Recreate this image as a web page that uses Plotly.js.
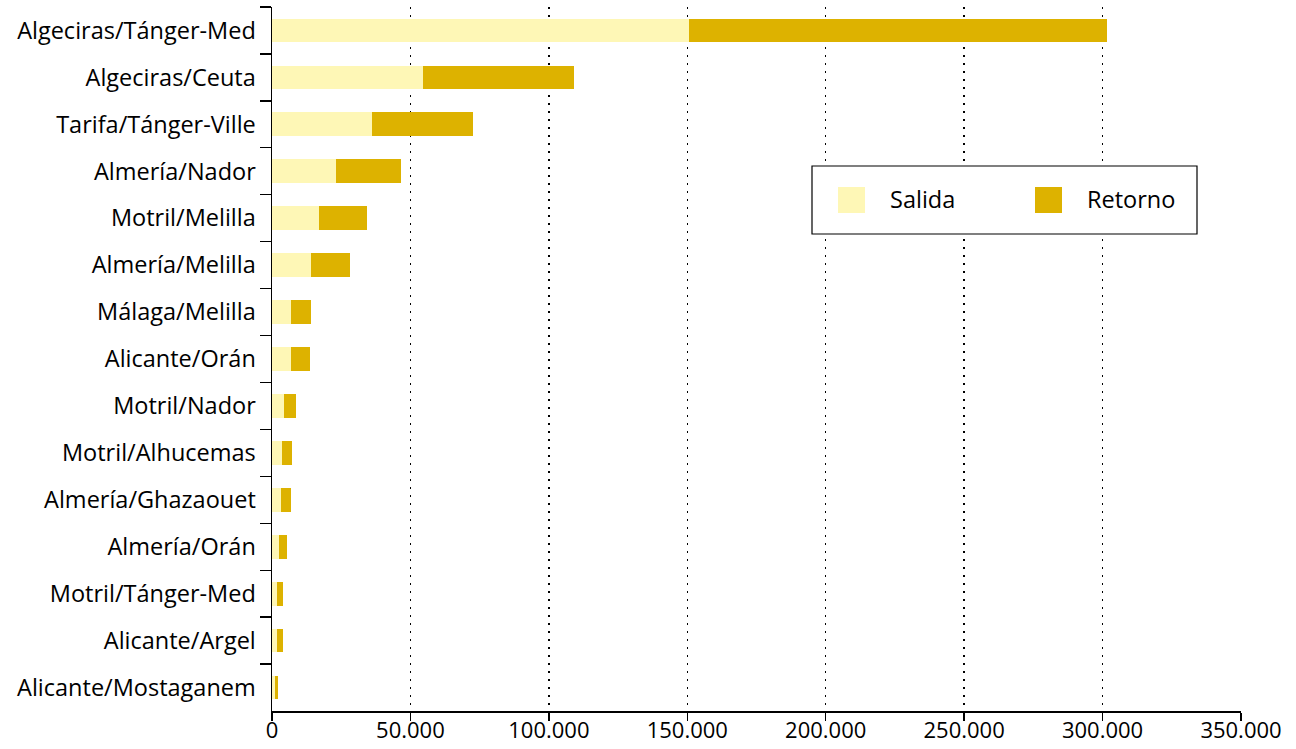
<!DOCTYPE html>
<html>
<head>
<meta charset="utf-8">
<script src="https://cdn.plot.ly/plotly-3.0.1.min.js"></script>
<style>html,body{margin:0;padding:0;background:#fff;}#chart{width:1296px;height:749px;}</style>
</head>
<body>
<div id="chart"></div>
<script>
const routes = ["Algeciras/Tánger-Med","Algeciras/Ceuta","Tarifa/Tánger-Ville","Almería/Nador","Motril/Melilla","Almería/Melilla","Málaga/Melilla","Alicante/Orán","Motril/Nador","Motril/Alhucemas","Almería/Ghazaouet","Almería/Orán","Motril/Tánger-Med","Alicante/Argel","Alicante/Mostaganem"];
const salida  = [150600, 54500, 36100, 23100, 17000, 14100, 6900, 6900, 4300, 3600, 3300, 2500, 1800, 1800, 1100];
const retorno = [150900, 54600, 36500, 23500, 17300, 14100, 7200, 6900, 4400, 3600, 3600, 2900, 2200, 2200, 1100];
const seriesNames = ["Salida", "Retorno"];
const xTicks = [0, 50000, 100000, 150000, 200000, 250000, 300000, 350000];

const colSalida = "#FEF7B6";
const colRetorno = "#DDB200";
const FONT = "Open Sans, sans-serif";
const FS = 23.5;

const traces = [
  {type:"bar", orientation:"h", name:seriesNames[0], y:routes, x:salida, marker:{color:colSalida, line:{width:0}}, showlegend:false, hoverinfo:"x+y"},
  {type:"bar", orientation:"h", name:seriesNames[1], y:routes, x:retorno, marker:{color:colRetorno, line:{width:0}}, showlegend:false, hoverinfo:"x+y"}
];

const layout = {
  width:1296, height:749,
  margin:{l:272, r:55, t:7, b:38, pad:0},
  paper_bgcolor:"#fff", plot_bgcolor:"#fff",
  barmode:"stack", bargap:0.495,
  separators:",.",
  font:{family:FONT, size:FS, color:"#000"},
  xaxis:{
    range:[0,350000], tickvals:xTicks, tickformat:",d",
    showgrid:true, gridcolor:"#000", gridwidth:1.4, griddash:"2px,6px",
    zeroline:false, showline:true, linecolor:"#000", linewidth:1.5,
    ticks:"outside", ticklen:8, tickcolor:"#000", tickwidth:1.3,
    ticklabelstandoff:-9,
    tickfont:{family:FONT, size:22, color:"#000"}, fixedrange:true
  },
  yaxis:{
    autorange:"reversed", type:"category",
    showgrid:false, zeroline:false, showline:true, linecolor:"#000", linewidth:1.5,
    ticks:"outside", tickson:"boundaries", ticklen:11, tickcolor:"#000", tickwidth:1.3,
    ticklabelstandoff:10,
    tickfont:{family:FONT, size:FS, color:"#000"}, fixedrange:true
  },
  shapes:[
    {type:"rect", xref:"paper", yref:"paper", x0:(812-272)/969, x1:(1197-272)/969, y0:(711-234)/704, y1:(711-166)/704, line:{color:"#000", width:1.2}, fillcolor:"#fff", layer:"above"},
    {type:"rect", xref:"paper", yref:"paper", x0:(838-272)/969, x1:(865-272)/969, y0:(711-213)/704, y1:(711-187)/704, line:{width:0}, fillcolor:colSalida, layer:"above"},
    {type:"rect", xref:"paper", yref:"paper", x0:(1035-272)/969, x1:(1062-272)/969, y0:(711-213)/704, y1:(711-187)/704, line:{width:0}, fillcolor:colRetorno, layer:"above"}
  ],
  annotations:[
    {xref:"paper", yref:"paper", x:(888-272)/969, y:(711-199)/704, xanchor:"left", yanchor:"middle", text:seriesNames[0], showarrow:false, font:{family:FONT, size:FS, color:"#000"}},
    {xref:"paper", yref:"paper", x:(1085-272)/969, y:(711-199)/704, xanchor:"left", yanchor:"middle", text:seriesNames[1], showarrow:false, font:{family:FONT, size:FS, color:"#000"}}
  ]
};

Plotly.newPlot("chart", traces, layout, {displayModeBar:false, staticPlot:true});
</script>
</body>
</html>
